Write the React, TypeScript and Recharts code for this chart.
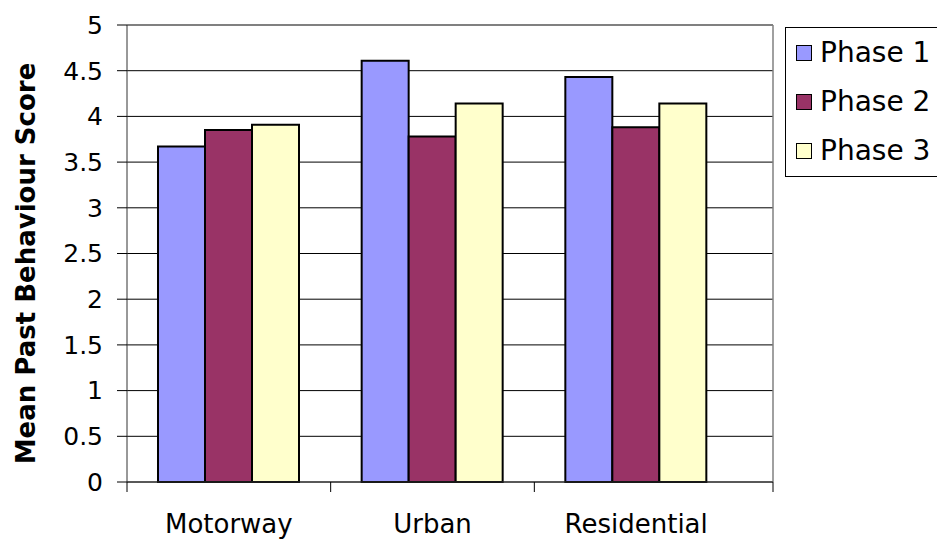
import { BarChart, Bar, XAxis, YAxis, CartesianGrid, Label } from 'recharts'

const categories = ['Motorway', 'Urban', 'Residential']
const phase1 = [3.67, 4.61, 4.43]
const phase2 = [3.85, 3.78, 3.88]
const phase3 = [3.91, 4.14, 4.14]
const seriesNames = ['Phase 1', 'Phase 2', 'Phase 3']
const yTicks = [0, 0.5, 1, 1.5, 2, 2.5, 3, 3.5, 4, 4.5, 5]
const yTitle = 'Mean Past Behaviour Score'

const COLORS = ['#9999ff', '#993366', '#ffffcc']
const FONT = '"DejaVu Sans", sans-serif'
const PAD_RIGHT = 35

const data = categories.map((name, i) => ({
  name,
  p1: phase1[i],
  p2: phase2[i],
  p3: phase3[i],
}))

// tick marks sit on the category boundaries, labels in the middle
function CategoryTick(props: any) {
  const { x, y, payload, index } = props
  const half = payload.offset ?? 102
  const last = index === categories.length - 1
  return (
    <g>
      <line x1={x - half} y1={y} x2={x - half} y2={y + 10} stroke="#000" />
      {last && <line x1={x + half + PAD_RIGHT} y1={y} x2={x + half + PAD_RIGHT} y2={y + 10} stroke="#000" />}
      <text x={x} y={y + 51} textAnchor="middle" fontSize={26} fontFamily={FONT} fill="#000">
        {payload.value}
      </text>
    </g>
  )
}

function PhaseLegend() {
  return (
    <div
      style={{
        position: 'absolute',
        left: 785,
        top: 27,
        border: '1px solid #000',
        borderRight: 'none',
        background: '#fff',
        width: 152,
        height: 150,
        boxSizing: 'border-box',
      }}
    >
      {seriesNames.map((name, i) => (
        <div key={name} style={{ display: 'flex', alignItems: 'center', height: 49 }}>
          <span
            style={{
              display: 'inline-block',
              width: 14,
              height: 14,
              background: COLORS[i],
              border: '1.5px solid #000',
              marginLeft: 10,
              marginRight: 8,
            }}
          />
          <span style={{ fontSize: 28, fontFamily: FONT, color: '#000' }}>{name}</span>
        </div>
      ))}
    </div>
  )
}

export default function App() {
  return (
    <div style={{ position: 'absolute', left: 0, top: 0, width: 937, height: 540, background: '#fff' }}>
      <BarChart
        width={937}
        height={540}
        data={data}
        margin={{ top: 25, right: 164, bottom: 0, left: 0 }}
        barCategoryGap={31}
        barGap={0}
      >
        <CartesianGrid vertical={false} stroke="#000" />
        {/* grey plot frame: top and right edges */}
        <CartesianGrid
          stroke="#808080"
          strokeWidth={1.5}
          horizontalCoordinatesGenerator={({ offset }: any) => [offset.top]}
          verticalCoordinatesGenerator={({ offset }: any) => [offset.left + offset.width]}
        />
        <XAxis
          dataKey="name"
          height={58}
          padding={{ left: 0, right: PAD_RIGHT }}
          tickLine={false}
          tickSize={0}
          tickMargin={0}
          axisLine={{ stroke: '#333' }}
          interval={0}
          tick={<CategoryTick />}
        />
        <YAxis
          width={127}
          domain={[0, 5]}
          ticks={yTicks}
          interval={0}
          tickSize={10}
          tickMargin={14}
          tickLine={{ stroke: '#000' }}
          axisLine={{ stroke: '#333' }}
          tick={{ fontSize: 25, fontFamily: FONT, fill: '#000' }}
        >
          <Label
            content={({ viewBox }: any) => (
              <text
                transform={`translate(35, ${viewBox.y + viewBox.height / 2 + 10}) rotate(-90)`}
                textAnchor="middle"
                fontSize={26}
                fontWeight="bold"
                fontFamily={FONT}
                fill="#000"
              >
                {yTitle}
              </text>
            )}
          />
        </YAxis>
        <Bar dataKey="p1" name={seriesNames[0]} fill={COLORS[0]} stroke="#000" strokeWidth={2} isAnimationActive={false} />
        <Bar dataKey="p2" name={seriesNames[1]} fill={COLORS[1]} stroke="#000" strokeWidth={2} isAnimationActive={false} />
        <Bar dataKey="p3" name={seriesNames[2]} fill={COLORS[2]} stroke="#000" strokeWidth={2} isAnimationActive={false} />
      </BarChart>
      <PhaseLegend />
    </div>
  )
}
